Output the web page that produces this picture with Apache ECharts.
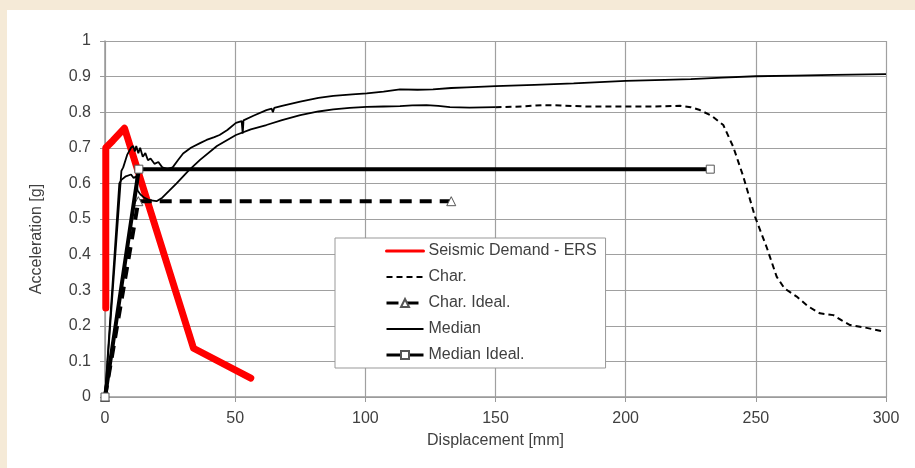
<!DOCTYPE html>
<html>
<head>
<meta charset="utf-8">
<script src="https://cdn.jsdelivr.net/npm/echarts@6/dist/echarts.min.js"></script>
<style>
  html, body { margin: 0; padding: 0; background: #f5ead7; }
  #wrap { position: relative; width: 915px; height: 468px; background: #f5ead7; overflow: hidden; }
  #chart { position: absolute; left: 7px; top: 10px; width: 908px; height: 458px; background: #ffffff; }
</style>
</head>
<body>
<div id="wrap"><div id="chart"></div></div>
<script>
// ---- Data ----
const xTicks = [0, 50, 100, 150, 200, 250, 300];
const yTicks = [0, 0.1, 0.2, 0.3, 0.4, 0.5, 0.6, 0.7, 0.8, 0.9, 1];

const seriesNames = ['Seismic Demand - ERS', 'Char.', 'Char. Ideal.', 'Median', 'Median Ideal.'];

// Seismic Demand - ERS
const ersX = [0.3, 0.3, 3, 7.5, 34, 56];
const ersY = [0.25, 0.70, 0.72, 0.755, 0.137, 0.053];

// Char.
const charX = [0, 5.5, 6.3, 8, 10, 11, 12, 12.5, 13.5, 15, 17, 19.8, 22, 24.5, 27.5, 32, 36.5, 43, 50.3, 56, 62, 68, 75, 82, 87.7, 94, 100.5, 107, 113.3, 118, 123.5, 128, 132.5, 140, 150,
               160, 168, 175, 185, 200, 210, 220.9, 225, 228.5, 233, 237.5, 241.3, 245.2, 249.7, 254.1, 258, 261, 265.7, 270, 274.6, 279.8, 283, 286.2, 292, 299.6];
const charY = [0, 0.60, 0.61, 0.62, 0.625, 0.615, 0.62, 0.58, 0.57, 0.56, 0.553, 0.55, 0.56, 0.578, 0.60, 0.635, 0.666, 0.705, 0.736, 0.752, 0.764, 0.778, 0.792, 0.802, 0.808, 0.812, 0.815, 0.816, 0.817, 0.819, 0.82, 0.818, 0.814, 0.813, 0.814,
               0.816, 0.82, 0.819, 0.816, 0.816, 0.816, 0.818, 0.814, 0.806, 0.79, 0.764, 0.703, 0.619, 0.506, 0.422, 0.338, 0.305, 0.282, 0.255, 0.235, 0.23, 0.215, 0.202, 0.195, 0.183];
const charSolidUntil = 150; // the dense early part of the trace looks solid

// Char. Ideal.
const charIdealX = [0, 12.8, 133];
const charIdealY = [0, 0.55, 0.55];

// Median
const medX = [0, 6.3, 7, 8.5, 10, 10.8, 11.5, 12, 12.8, 13.5, 14.5, 15.5, 16.5, 17.5, 19, 20.5, 22, 24, 26, 28, 30, 33, 36.5, 39, 42, 44, 47, 50.3, 52.5, 52.9, 53.2, 57, 62, 64, 64.5, 65, 68, 75, 82, 87.7, 95, 100.5, 107, 113.3, 120, 126, 133, 139, 150,
              165, 180, 200, 215, 225, 237, 250, 265, 280, 300];
const medY = [0, 0.635, 0.645, 0.68, 0.70, 0.705, 0.69, 0.705, 0.685, 0.70, 0.675, 0.685, 0.665, 0.67, 0.655, 0.66, 0.645, 0.64, 0.645, 0.665, 0.684, 0.70, 0.713, 0.722, 0.73, 0.736, 0.75, 0.77, 0.775, 0.74, 0.777, 0.79, 0.806, 0.81, 0.80, 0.812, 0.818, 0.83, 0.84, 0.846, 0.85, 0.853, 0.858, 0.864, 0.863, 0.864, 0.868, 0.870, 0.873,
              0.877, 0.881, 0.888, 0.891, 0.893, 0.897, 0.901, 0.903, 0.905, 0.907];

// Median Ideal.
const medIdealX = [0, 13, 232.5];
const medIdealY = [0, 0.64, 0.64];

// ---- Build ----
function pairs(xs, ys) { return xs.map((x, i) => [x, ys[i]]); }
const charAll = pairs(charX, charY);
const charSolid = charAll.filter(p => p[0] <= charSolidUntil);
const charDashed = charAll.filter(p => p[0] >= charSolidUntil);

const chart = echarts.init(document.getElementById('chart'), null, { renderer: 'canvas' });
const FONT = 'Liberation Sans, Arial, sans-serif';
const TXT = '#404040';
const GRID = '#a0a0a0';
const noSymbol = { color: 'rgba(0,0,0,0)', borderWidth: 0, opacity: 0 };

const option = {
  backgroundColor: '#ffffff',
  animation: false,
  grid: { left: 98, right: 29, top: 31, bottom: 71, containLabel: false },
  xAxis: {
    type: 'value', min: xTicks[0], max: xTicks[xTicks.length - 1], interval: xTicks[1] - xTicks[0],
    name: 'Displacement [mm]', nameLocation: 'middle', nameGap: 36,
    nameTextStyle: { fontFamily: FONT, fontSize: 16, color: TXT },
    axisLine: { show: true, lineStyle: { color: '#999999', width: 1.5 } },
    axisTick: { show: true, length: 5, lineStyle: { color: '#999999' } },
    axisLabel: { fontFamily: FONT, fontSize: 16, color: TXT, margin: 14 },
    splitLine: { show: true, lineStyle: { color: GRID, width: 1.2 } }
  },
  yAxis: {
    type: 'value', min: yTicks[0], max: yTicks[yTicks.length - 1], interval: 0.1,
    name: 'Acceleration [g]', nameLocation: 'middle', nameGap: 60,
    nameTextStyle: { fontFamily: FONT, fontSize: 16, color: TXT, padding: [0, 40, 0, 0] },
    axisLine: { show: true, lineStyle: { color: '#999999', width: 1.5 } },
    axisTick: { show: true, length: 5, lineStyle: { color: '#999999' } },
    axisLabel: { fontFamily: FONT, fontSize: 16, color: TXT, margin: 14 },
    splitLine: { show: true, lineStyle: { color: GRID, width: 1.2 } }
  },
  legend: {
    orient: 'vertical', left: 328, top: 228,
    padding: [5, 9, 5, 50],
    itemWidth: 37, itemHeight: 10, itemGap: 10,
    borderColor: '#999999', borderWidth: 1, backgroundColor: '#ffffff',
    textStyle: { fontFamily: FONT, fontSize: 16, color: TXT, lineHeight: 16 },
    selectedMode: false,
    data: [
      { name: seriesNames[0], lineStyle: { width: 3 }, itemStyle: noSymbol },
      { name: seriesNames[1], itemStyle: noSymbol },
      { name: seriesNames[2], lineStyle: { width: 3 } },
      { name: seriesNames[3], itemStyle: noSymbol },
      { name: seriesNames[4], lineStyle: { width: 3 } }
    ]
  },
  series: [
    {
      name: seriesNames[0], type: 'line', data: pairs(ersX, ersY),
      symbol: 'none', color: '#ff0000',
      lineStyle: { color: '#ff0000', width: 7, join: 'round', cap: 'round' }, z: 2
    },
    {
      name: 'Char-solid', type: 'line', data: charSolid,
      symbol: 'none', color: '#000000',
      lineStyle: { color: '#000000', width: 1.8 }, z: 3
    },
    {
      name: seriesNames[1], type: 'line', data: charDashed,
      symbol: 'none', color: '#000000',
      lineStyle: { color: '#000000', width: 2, type: [6, 4] }, z: 3
    },
    {
      name: seriesNames[2], type: 'line', data: pairs(charIdealX, charIdealY),
      symbol: 'triangle', symbolSize: 9, showAllSymbol: true, color: '#000000',
      itemStyle: { color: '#ffffff', borderColor: '#555555', borderWidth: 1 },
      lineStyle: { color: '#000000', width: 4, type: [12, 8] }, z: 4
    },
    {
      name: seriesNames[3], type: 'line', data: pairs(medX, medY),
      symbol: 'none', color: '#000000',
      lineStyle: { color: '#000000', width: 1.8 }, z: 5
    },
    {
      name: seriesNames[4], type: 'line', data: pairs(medIdealX, medIdealY),
      symbol: 'rect', symbolSize: 8, showAllSymbol: true, color: '#000000',
      itemStyle: { color: '#ffffff', borderColor: '#555555', borderWidth: 1 },
      lineStyle: { color: '#000000', width: 4 }, z: 6
    }
  ]
};
chart.setOption(option);
</script>
</body>
</html>
